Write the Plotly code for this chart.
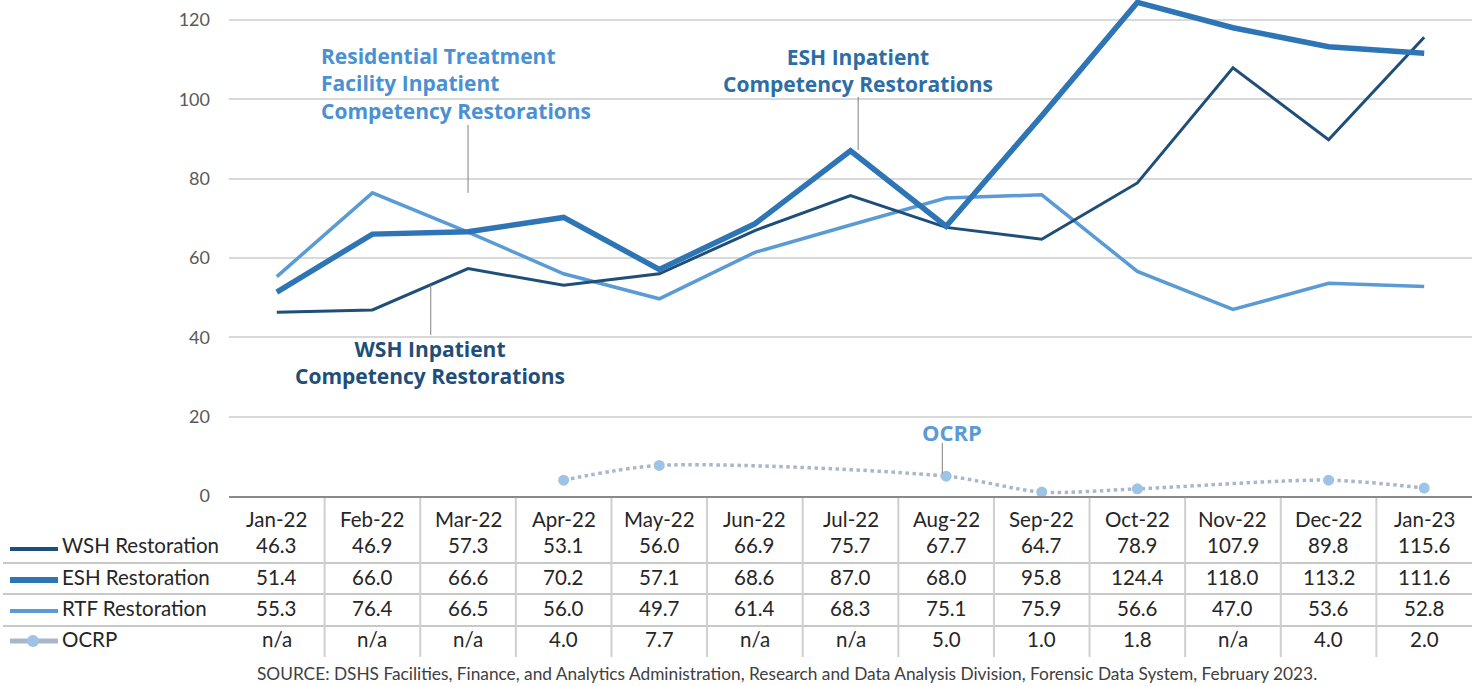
import plotly.graph_objects as go

months = ["Jan-22", "Feb-22", "Mar-22", "Apr-22", "May-22", "Jun-22", "Jul-22",
          "Aug-22", "Sep-22", "Oct-22", "Nov-22", "Dec-22", "Jan-23"]
wsh = [46.3, 46.9, 57.3, 53.1, 56.0, 66.9, 75.7, 67.7, 64.7, 78.9, 107.9, 89.8, 115.6]
esh = [51.4, 66.0, 66.6, 70.2, 57.1, 68.6, 87.0, 68.0, 95.8, 124.4, 118.0, 113.2, 111.6]
rtf = [55.3, 76.4, 66.5, 56.0, 49.7, 61.4, 68.3, 75.1, 75.9, 56.6, 47.0, 53.6, 52.8]
ocrp = [None, None, None, 4.0, 7.7, None, None, 5.0, 1.0, 1.8, None, 4.0, 2.0]
row_names = ["WSH Restoration", "ESH Restoration", "RTF Restoration", "OCRP"]
y_ticks = [0, 20, 40, 60, 80, 100, 120]
source = ("SOURCE: DSHS Facilities, Finance, and Analytics Administration, Research and "
          "Data Analysis Division, Forensic Data System, February 2023.")

W, H = 1472, 686
L, R, T, B = 229, 0, 0, 190
PW, PH = W - L - R, H - T - B


def xp(p):
    return (p - L) / PW


def yp(p):
    return (H - B - p) / PH


C_WSH = "#1F4E79"
C_ESH = "#2E75B6"
C_RTF = "#5B9BD5"
C_OCRP_LINE = "#A9B7CB"
C_OCRP_MK = "#9DC3E6"
FONT = "Lato"
AFONT = "Open Sans"
TXT = "#262626"

fig = go.Figure()
fig.add_trace(go.Scatter(x=months, y=rtf, mode="lines", line=dict(color=C_RTF, width=3.5),
                         name="RTF Restoration"))
fig.add_trace(go.Scatter(x=months, y=wsh, mode="lines", line=dict(color=C_WSH, width=3),
                         name="WSH Restoration"))
fig.add_trace(go.Scatter(x=months, y=esh, mode="lines", line=dict(color=C_ESH, width=5.5),
                         name="ESH Restoration"))
fig.add_trace(go.Scatter(x=months, y=ocrp, mode="lines+markers", connectgaps=True,
                         line=dict(color=C_OCRP_LINE, width=3.5, dash="dot", shape="spline",
                                   smoothing=0.8),
                         marker=dict(color=C_OCRP_MK, size=11), name="OCRP"))

shapes = []
annotations = []

# Leader lines for in-chart labels (data coordinates)
for (x0, y0, y1) in [(2.0, 93.5, 76.4), (6.08, 100.6, 87.2), (1.61, 53.2, 40.6), (6.96, 13.4, 5.6)]:
    shapes.append(dict(type="line", xref="x", yref="y", x0=x0, x1=x0, y0=y0, y1=y1,
                       line=dict(color="#808080", width=1)))


def label(text, x, yc, anchor, color, size=21, align="center"):
    annotations.append(dict(text=text, xref="paper", yref="paper", x=xp(x), y=yp(yc),
                            xanchor=anchor, yanchor="middle", align=align, showarrow=False,
                            font=dict(family=AFONT, size=size, color=color, weight="bold")))


label("Residential Treatment<br>Facility Inpatient<br>Competency Restorations", 319, 83,
      "left", "#4A90D2", align="left")
label("ESH Inpatient<br>Competency Restorations", 858, 70, "center", "#2D6DA6")
label("WSH Inpatient<br>Competency Restorations", 430, 362, "center", "#214E78")
label("OCRP", 952, 432, "center", "#5B9BD5", size=22)

# Table
header_y = 519
row_ys = [545, 577, 608, 639]
key_ys = [549, 580, 611, 641]
sep_ys = [563, 594, 626]
col_w = PW / len(months)

for ym in sep_ys:
    shapes.append(dict(type="line", xref="paper", yref="paper", x0=xp(3), x1=xp(W), y0=yp(ym), y1=yp(ym),
                       line=dict(color="#C8C8C8", width=2)))
for i in range(1, len(months)):
    xv = xp(L + i * col_w)
    shapes.append(dict(type="line", xref="paper", yref="paper", x0=xv, x1=xv, y0=yp(498), y1=yp(657),
                       line=dict(color="#CFCFCF", width=2)))

for m in months:
    annotations.append(dict(text=m, xref="x", yref="paper", x=m, y=yp(header_y), showarrow=False,
                            xanchor="center", yanchor="middle", font=dict(family=FONT, size=20.5, color=TXT)))

series_rows = [wsh, esh, rtf, ocrp]
for r, vals in enumerate(series_rows):
    for m, v in zip(months, vals):
        txt = "n/a" if v is None else f"{v:.1f}"
        annotations.append(dict(text=txt, xref="x", yref="paper", x=m, y=yp(row_ys[r]), showarrow=False,
                                xanchor="center", yanchor="middle", font=dict(family=FONT, size=20.5, color=TXT)))
    annotations.append(dict(text=row_names[r], xref="paper", yref="paper", x=xp(60), y=yp(row_ys[r]),
                            showarrow=False, xanchor="left", yanchor="middle",
                            font=dict(family=FONT, size=20.5, color=TXT)))

# Legend keys
key_styles = [(C_WSH, 4), (C_ESH, 6), (C_RTF, 4), (C_OCRP_LINE, 5)]
for r, (c, w) in enumerate(key_styles):
    shapes.append(dict(type="line", xref="paper", yref="paper", x0=xp(10), x1=xp(58),
                       y0=yp(key_ys[r]), y1=yp(key_ys[r]), line=dict(color=c, width=w)))
shapes.append(dict(type="circle", xref="paper", yref="paper", x0=xp(27), x1=xp(39),
                   y0=yp(641 + 6), y1=yp(641 - 6), fillcolor=C_OCRP_MK, line=dict(width=0)))

annotations.append(dict(text=source, xref="paper", yref="paper", x=xp(787), y=yp(673), showarrow=False,
                        xanchor="center", yanchor="middle", font=dict(family=FONT, size=17.3, color="#404040")))

fig.update_layout(
    width=W, height=H, margin=dict(l=L, r=R, t=T, b=B),
    paper_bgcolor="white", plot_bgcolor="white", showlegend=False,
    shapes=shapes, annotations=annotations,
    font=dict(family=FONT),
    xaxis=dict(type="category", categoryorder="array", categoryarray=months, range=[-0.5, 12.5],
               showticklabels=False, showgrid=False, zeroline=False, ticks="",
               showline=True, linecolor="#8A8A8A", linewidth=2),
    yaxis=dict(range=[0, 125], tickvals=y_ticks, showgrid=True, gridcolor="#D9D9D9", gridwidth=2,
               zeroline=False, showline=False, ticklabelstandoff=18,
               tickfont=dict(family=FONT, size=18, color="#595959")),
)

fig.write_html("out.html", config={"displayModeBar": False},
               post_script="document.body.style.margin='0';")
